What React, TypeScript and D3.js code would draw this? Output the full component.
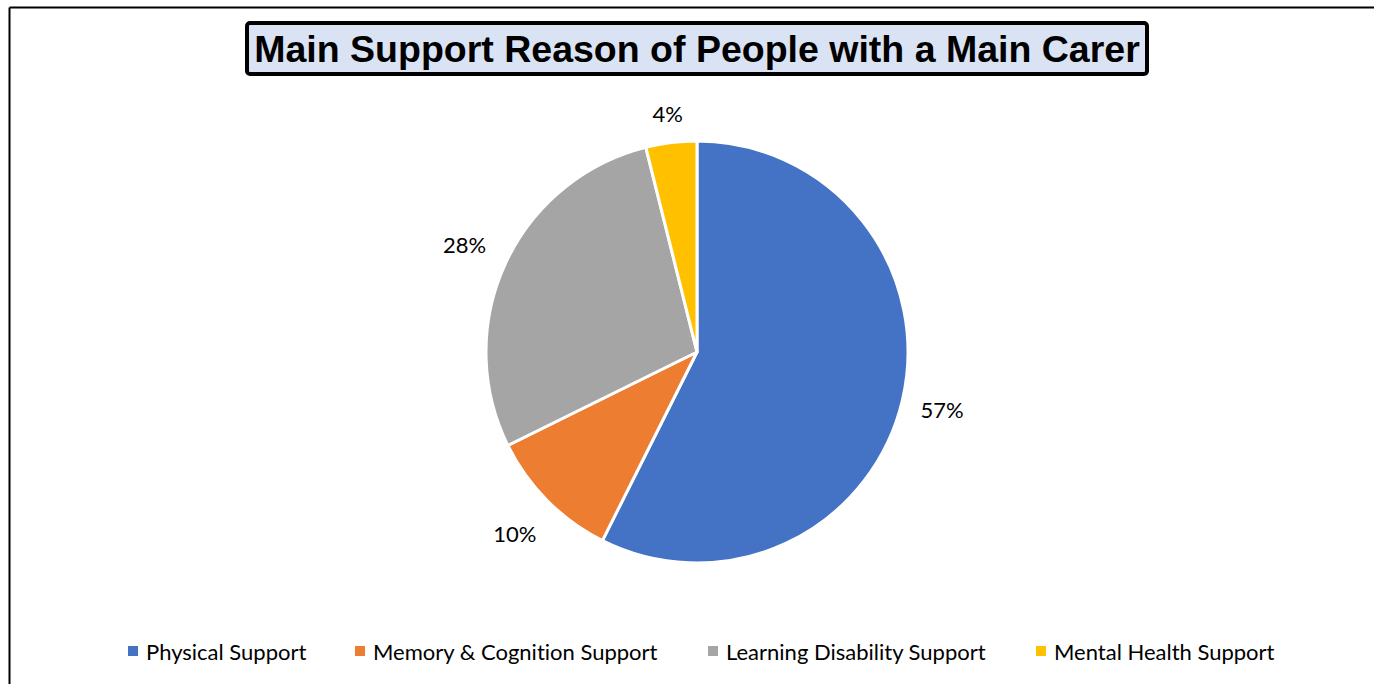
import React from "react";
import * as d3 from "d3";

// Share of people with a main carer, by main support reason
const categories = [
  "Physical Support",
  "Memory & Cognition Support",
  "Learning Disability Support",
  "Mental Health Support",
];
const values = [57.4, 10.3, 28.4, 3.9];
const colors = ["#4472C4", "#ED7D31", "#A5A5A5", "#FFC000"];
const title = "Main Support Reason of People with a Main Carer";

const W = 1374;
const H = 684;
const cx = 697;
const cy = 352;
const R = 211;
// distance between the pie edge and each data label box
const labelGaps = [18, 24, 22, 18];
const labelFont = 22;

// legend layout: x positions of each marker
const legendX = [128, 355, 708, 1036];
const legendY = 651;

export default function App() {
  const total = d3.sum(values);
  const pie = d3
    .pie<number>()
    .sort(null)
    .value((d) => d)
    .startAngle(0)
    .endAngle(2 * Math.PI);
  const arcs = pie(values);
  const arc = d3.arc<d3.PieArcDatum<number>>().innerRadius(0).outerRadius(R);
  const pct = (v: number) => d3.format(".0%")(v / total);

  return (
    <svg
      width={W}
      height={H}
      style={{
        position: "absolute",
        left: 0,
        top: 0,
        background: "#fff",
        fontVariantLigatures: "none",
      }}
      fontFamily="Lato, 'Open Sans', sans-serif"
    >
      {/* chart frame */}
      <line x1={9.5} y1={7.5} x2={W} y2={7.5} stroke="#000" strokeWidth={2} />
      <line x1={9.5} y1={7.5} x2={9.5} y2={H} stroke="#000" strokeWidth={2} />

      {/* title box */}
      <rect
        x={247}
        y={23}
        width={900}
        height={51}
        rx={3}
        fill="#DAE3F3"
        stroke="#000"
        strokeWidth={4}
      />
      <text
        x={cx}
        y={49}
        textAnchor="middle"
        dominantBaseline="central"
        fontFamily="'Liberation Sans', Arial, sans-serif"
        fontWeight="bold"
        fontSize={37.5}
        fill="#000"
      >
        {title}
      </text>

      <g transform={`translate(${cx},${cy})`}>
        {arcs.map((a, i) => (
          <path
            key={categories[i]}
            d={arc(a) || ""}
            fill={colors[i]}
            stroke="#fff"
            strokeWidth={3}
            strokeLinejoin="round"
          />
        ))}
        {arcs.map((a, i) => {
          const mid = (a.startAngle + a.endAngle) / 2;
          const dx = Math.sin(mid);
          const dy = -Math.cos(mid);
          const txt = pct(a.value);
          const halfW = txt.length * 7;
          const halfH = 10;
          const support = halfW * Math.abs(dx) + halfH * Math.abs(dy);
          const d = R + labelGaps[i] + support;
          return (
            <text
              key={"l" + i}
              x={dx * d}
              y={dy * d}
              textAnchor="middle"
              dominantBaseline="central"
              fontSize={labelFont}
              fill="#000"
            >
              {txt}
            </text>
          );
        })}
      </g>

      {/* legend */}
      {categories.map((c, i) => (
        <g key={"lg" + i} transform={`translate(${legendX[i]},${legendY})`}>
          <rect x={0} y={-5} width={10} height={10} fill={colors[i]} />
          <text x={18} y={0} dominantBaseline="central" fontSize={labelFont} fill="#000">
            {c}
          </text>
        </g>
      ))}
    </svg>
  );
}
